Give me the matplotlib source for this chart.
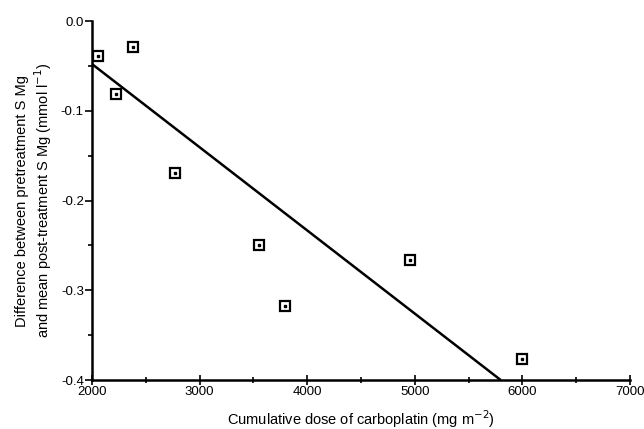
import matplotlib
matplotlib.use('Agg')
import matplotlib.pyplot as plt
import matplotlib.ticker as ticker

# data
dose = [2056, 2381, 2220, 2768, 3552, 3794, 4955, 5996]
mg_diff = [-0.039, -0.029, -0.081, -0.169, -0.250, -0.318, -0.266, -0.377]

# regression line endpoints
fit_x = [2000, 5800]
fit_y = [-0.048, -0.400]

plt.rcParams['font.family'] = ['Liberation Sans', 'DejaVu Sans']

fig = plt.figure(figsize=(6.44, 4.29), dpi=100)
ax = fig.add_axes([0.143, 0.114, 0.835, 0.837])

ax.plot(fit_x, fit_y, color='black', linewidth=1.8, solid_capstyle='butt')
ax.plot(dose, mg_diff, linestyle='none', marker='s', markersize=7,
        markerfacecolor='white', markeredgecolor='black', markeredgewidth=1.6)
ax.plot(dose, mg_diff, linestyle='none', marker='s', markersize=1.5,
        color='black')

ax.set_xlim(2000, 7000)
ax.set_ylim(-0.4, 0.0)

ax.xaxis.set_major_locator(ticker.MultipleLocator(1000))
ax.xaxis.set_minor_locator(ticker.MultipleLocator(500))
ax.yaxis.set_major_locator(ticker.MultipleLocator(0.1))
ax.yaxis.set_minor_locator(ticker.MultipleLocator(0.05))
ax.yaxis.set_major_formatter(ticker.FormatStrFormatter('%.1f'))

ax.spines['top'].set_visible(False)
ax.spines['right'].set_visible(False)
ax.spines['left'].set_linewidth(1.8)
ax.spines['bottom'].set_linewidth(1.8)

ax.tick_params(axis='x', which='major', direction='inout', length=7, width=1.2,
               labelsize=9.5, pad=1)
ax.tick_params(axis='x', which='minor', direction='inout', length=5, width=1.2)
ax.tick_params(axis='y', which='major', direction='out', length=5, width=1.2,
               labelsize=9.5, pad=1)
ax.tick_params(axis='y', which='minor', direction='out', length=3, width=1.2)

ax.set_xlabel('Cumulative dose of carboplatin (mg m$^{-2}$)', fontsize=10.5, labelpad=7)
ax.set_ylabel('Difference between pretreatment S Mg\n'
              'and mean post-treatment S Mg (mmol l$^{-1}$)', fontsize=10.5, labelpad=5)

plt.savefig('out.png', dpi=100)
